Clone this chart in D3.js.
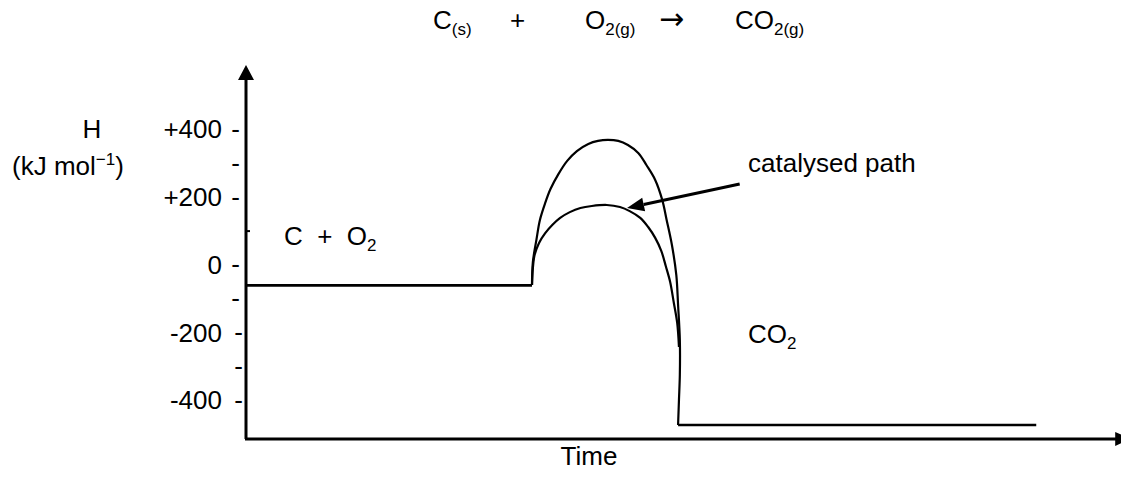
<!DOCTYPE html>
<html>
<head>
<meta charset="utf-8">
<script src="https://cdn.jsdelivr.net/npm/d3@7"></script>
<style>
	body { margin: 0; background: #fff; }
	svg { display: block; font-family: "Liberation Sans", Arial, sans-serif; }
	text { fill: #000; white-space: pre; }
</style>
</head>
<body>
<svg id="chart" width="1121" height="477"></svg>
<script>
// enthalpy values in kJ/mol, time in arbitrary units
const hTicks = [400, 200, 0, -200, -400];
const hDashTicks = [400, 300, 200, 0, -100, -200, -300, -400];
const hMarkTicks = [100];
const reactantTime = [0, 32.5];
const reactantH = -60;
const productTime = [49.1, 89.8];
const productH = -472;
const uncatTime = [32.5, 32.6, 33.0, 33.4, 34.0, 34.6, 35.5, 36.5, 37.6, 38.9, 40.0, 41.1, 42.3, 43.4, 44.6, 45.5, 46.5, 47.3, 47.8, 48.4, 48.9, 49.1, 49.3, 49.3, 49.2, 49.1];
const uncatH = [-59, 9, 74, 133, 183, 224, 268, 307, 336, 357, 366, 369, 366, 354, 330, 295, 251, 192, 133, 59, -30, -118, -221, -324, -398, -472];
const catTime = [32.5, 32.6, 32.8, 33.3, 34.0, 34.8, 35.7, 36.8, 38.0, 39.3, 41.0, 42.5, 43.6, 44.8, 45.7, 46.5, 47.2, 47.7, 48.2, 48.6, 49.0, 49.2];
const catH = [-59, -9, 30, 65, 94, 118, 139, 156, 168, 174, 177, 171, 159, 139, 112, 80, 41, -3, -50, -109, -171, -242];
const pointerFrom = [56.1, 239];
const pointerTo = [43.3, 168];

const svg = d3.select("#chart");

var x = d3.scaleLinear().domain([0, 100]).range([246, 1126]);
var y = d3.scaleLinear().domain([0, 100]).range([265, 231.1]);

var yBottom = -513, yTop = 590, xEnd = 99;

// axes
svg.append("line")
	.attr("x1", x(0)).attr("y1", y(yBottom))
	.attr("x2", x(0)).attr("y2", y(yTop) + 12)
	.attr("stroke", "#000").attr("stroke-width", 3);
svg.append("path")
	.attr("d", `M${x(0)},${y(yTop)} L${x(0) - 8},${y(yTop) + 15} L${x(0) + 8},${y(yTop) + 15} Z`)
	.attr("fill", "#000");
svg.append("line")
	.attr("x1", x(0) - 1).attr("y1", y(yBottom))
	.attr("x2", x(xEnd)).attr("y2", y(yBottom))
	.attr("stroke", "#000").attr("stroke-width", 3);
svg.append("path")
	.attr("d", `M${x(xEnd) - 2},${y(yBottom) - 7} L${x(xEnd) + 14},${y(yBottom)} L${x(xEnd) - 2},${y(yBottom) + 7} Z`)
	.attr("fill", "#000");

// tick labels
const yAxis = d3.axisLeft(y)
	.tickValues(hTicks)
	.tickSize(0)
	.tickPadding(0)
	.tickFormat((d) => (d > 0 ? "+" + d : d));
svg.append("g")
	.attr("transform", `translate(${x(0) - 24},0)`)
	.call(yAxis)
	.call((g) => g.select(".domain").remove())
	.selectAll("text")
	.attr("font-size", 26)
	.attr("font-family", "Liberation Sans, Arial, sans-serif")
	.attr("fill", "#000");

svg.append("g")
	.selectAll("text")
	.data(hDashTicks)
	.enter()
	.append("text")
	.attr("x", (d) => (d < -150 ? x(0) - 3 : x(0) - 6))
	.attr("y", (d) => y(d))
	.attr("dy", "0.32em")
	.attr("text-anchor", "end")
	.attr("font-size", 26)
	.text("-");

svg.append("g")
	.selectAll("line")
	.data(hMarkTicks)
	.enter()
	.append("line")
	.attr("x1", x(0)).attr("x2", x(0) + 4)
	.attr("y1", (d) => y(d)).attr("y2", (d) => y(d))
	.attr("stroke", "#000").attr("stroke-width", 2);

// levels
const line = d3.line().x((d) => x(d[0])).y((d) => y(d[1]));
const curve = d3.line().x((d) => x(d[0])).y((d) => y(d[1])).curve(d3.curveCatmullRom.alpha(0.5));

svg.append("path")
	.attr("d", line(reactantTime.map((t) => [t, reactantH])))
	.attr("fill", "none").attr("stroke", "#000").attr("stroke-width", 2.7);
svg.append("path")
	.attr("d", line(productTime.map((t) => [t, productH])))
	.attr("fill", "none").attr("stroke", "#000").attr("stroke-width", 2.7);
svg.append("path")
	.attr("d", curve(uncatTime.map((t, i) => [t, uncatH[i]])))
	.attr("fill", "none").attr("stroke", "#000").attr("stroke-width", 2.2);
svg.append("path")
	.attr("d", curve(catTime.map((t, i) => [t, catH[i]])))
	.attr("fill", "none").attr("stroke", "#000").attr("stroke-width", 2.2);

// pointer arrow
var x1 = x(pointerFrom[0]), y1 = y(pointerFrom[1]);
var x2 = x(pointerTo[0]), y2 = y(pointerTo[1]);
var ang = Math.atan2(y2 - y1, x2 - x1);
var hl = 17, hw = 7;
var bx = x2 - hl * Math.cos(ang), by = y2 - hl * Math.sin(ang);
svg.append("line")
	.attr("x1", x1).attr("y1", y1).attr("x2", bx).attr("y2", by)
	.attr("stroke", "#000").attr("stroke-width", 3);
svg.append("path")
	.attr("d", `M${x2},${y2} L${bx + hw * Math.sin(ang)},${by - hw * Math.cos(ang)} L${bx - hw * Math.sin(ang)},${by + hw * Math.cos(ang)} Z`)
	.attr("fill", "#000");

// text with subscripts
function chem(px, py, parts) {
	const t = svg.append("text").attr("x", px).attr("y", py).attr("font-size", 26);
	let shift = 0;
	parts.forEach((p) => {
		const s = t.append("tspan").text(p[0]);
		if (p[1] === "sub") {
			s.attr("font-size", 17).attr("dy", 6 - shift);
			shift = 6;
		} else if (p[1] === "sup") {
			s.attr("font-size", 17).attr("dy", -10 - shift);
			shift = -10;
		} else {
			s.attr("dy", -shift);
			shift = 0;
		}
	});
	return t;
}

chem(433, 29, [["C"], ["(s)", "sub"]]);
chem(510, 29, [["+"]]);
chem(585, 29, [["O"], ["2(g)", "sub"]]);
svg.append("text").attr("x", 659).attr("y", 29).attr("font-size", 30)
	.attr("font-family", "DejaVu Sans, sans-serif").text("\u2192");
chem(735, 29, [["CO"], ["2(g)", "sub"]]);

svg.append("text").attr("x", 92).attr("y", 138).attr("text-anchor", "middle").attr("font-size", 26).text("H");
chem(12, 175, [["(kJ mol"], ["\u22121", "sup"], [")"]]);

chem(284, 245, [["C  +  O"], ["2", "sub"]]);
chem(748, 343, [["CO"], ["2", "sub"]]);
svg.append("text").attr("x", 748).attr("y", 172).attr("font-size", 26).text("catalysed path");
svg.append("text").attr("x", 589).attr("y", 465).attr("text-anchor", "middle").attr("font-size", 26).text("Time");
</script>
</body>
</html>
